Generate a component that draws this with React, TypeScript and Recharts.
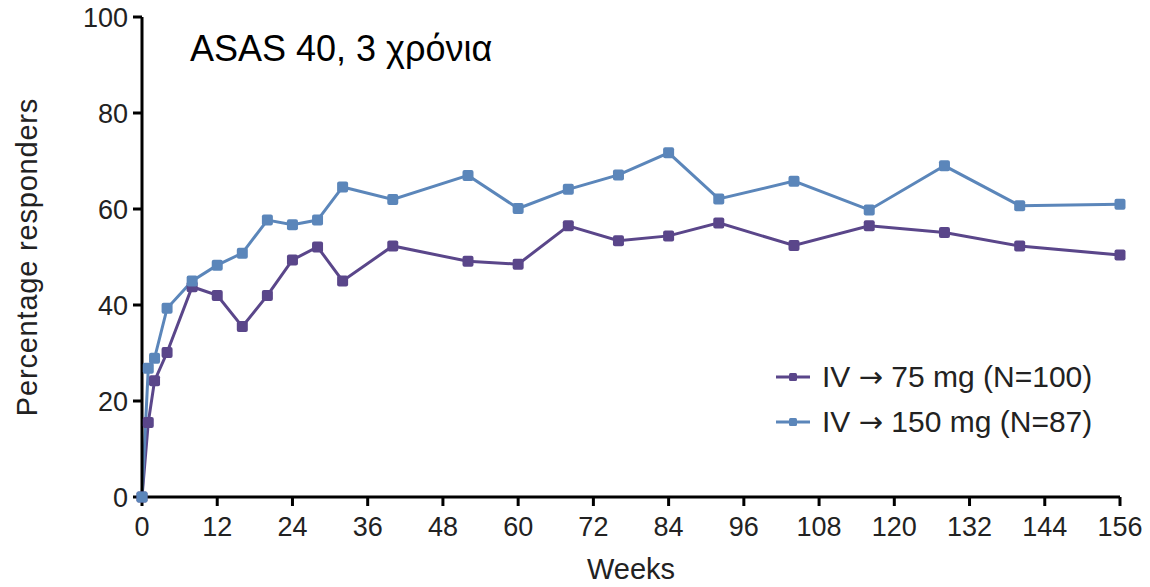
import { LineChart, Line, XAxis, YAxis } from "recharts";

const weeks = [0, 1, 2, 4, 8, 12, 16, 20, 24, 28, 32, 40, 52, 60, 68, 76, 84, 92, 104, 116, 128, 140, 156];
const iv75 = [0, 15.5, 24.2, 30.1, 43.8, 42, 35.5, 42, 49.4, 52.1, 45, 52.3, 49.1, 48.5, 56.5, 53.4, 54.4, 57.1, 52.4, 56.5, 55.1, 52.3, 50.4];
const iv150 = [0, 26.8, 28.9, 39.3, 45, 48.3, 50.8, 57.7, 56.7, 57.7, 64.6, 62, 67, 60.1, 64.1, 67.1, 71.7, 62.1, 65.8, 59.8, 69, 60.7, 61];
const xTicks = [0, 12, 24, 36, 48, 60, 72, 84, 96, 108, 120, 132, 144, 156];
const yTicks = [0, 20, 40, 60, 80, 100];

const seriesInfo = [
  { key: "iv75", dose: "75 mg (N=100)", color: "#5a468a" },
  { key: "iv150", dose: "150 mg (N=87)", color: "#5b86ba" },
];

const data = weeks.map((w, i) => ({ week: w, iv75: iv75[i], iv150: iv150[i] }));

const FONT = "'Liberation Sans', Arial, Helvetica, sans-serif";
const TEXT = "#222";

// square marker with slightly rounded corners
const SquareDot = (color: string) => (props: any) => {
  const { cx, cy, index } = props;
  if (cx == null || cy == null) return null;
  return <rect key={index} x={cx - 5.5} y={cy - 5.5} width={11} height={11} rx={2} fill={color} />;
};

const LegendBox = () => (
  <div
    style={{
      position: "absolute",
      left: 776,
      top: 354,
      fontFamily: FONT,
      fontSize: 30,
      color: TEXT,
    }}
  >
    {seriesInfo.map((s) => (
      <div key={s.key} style={{ display: "flex", alignItems: "center", height: 45 }}>
        <svg width={34} height={14}>
          <line x1={0} y1={7} x2={34} y2={7} stroke={s.color} strokeWidth={3} />
          <rect x={13} y={3} width={8} height={8} rx={1.5} fill={s.color} />
        </svg>
        <span style={{ marginLeft: 12, whiteSpace: "nowrap" }}>
          IV <span style={{ fontFamily: "'DejaVu Sans'", fontSize: 29 }}>{"\u2192"}</span> {s.dose}
        </span>
      </div>
    ))}
  </div>
);

export default function App() {
  return (
    <div style={{ position: "absolute", left: 0, top: 0, width: 1150, height: 587, background: "#fff" }}>
      <LineChart
        width={1150}
        height={587}
        data={data}
        margin={{ top: 17, right: 30, bottom: 0, left: 0 }}
      >
        <XAxis
          dataKey="week"
          type="number"
          domain={[0, 156]}
          ticks={xTicks}
          interval={0}
          height={90}
          axisLine={{ stroke: "#000", strokeWidth: 3 }}
          tickLine={{ stroke: "#000", strokeWidth: 3 }}
          tickSize={9}
          tickMargin={11}
          tick={{ fill: TEXT, fontSize: 27, fontFamily: FONT }}
          label={{
            value: "Weeks",
            position: "insideBottom",
            offset: 8,
            style: { fill: TEXT, fontSize: 29, fontFamily: FONT },
          }}
        />
        <YAxis
          type="number"
          domain={[0, 100]}
          ticks={yTicks}
          interval={0}
          width={142}
          axisLine={{ stroke: "#000", strokeWidth: 3 }}
          tickLine={{ stroke: "#000", strokeWidth: 3 }}
          tickSize={9}
          tickMargin={5}
          tick={{ fill: TEXT, fontSize: 27, fontFamily: FONT }}
          label={{
            content: (p: any) => {
              const vb = p.viewBox;
              const x = vb.x + 27;
              const y = vb.y + vb.height / 2;
              return (
                <text
                  x={x}
                  y={y}
                  transform={`rotate(-90 ${x} ${y})`}
                  textAnchor="middle"
                  dominantBaseline="central"
                  fill={TEXT}
                  fontSize={29}
                  letterSpacing={0.8}
                  fontFamily={FONT}
                >
                  Percentage responders
                </text>
              );
            },
          }}
        />
        {seriesInfo.map((s) => (
          <Line
            key={s.key}
            type="linear"
            dataKey={s.key}
            stroke={s.color}
            strokeWidth={3}
            dot={SquareDot(s.color)}
            activeDot={false}
            isAnimationActive={false}
          />
        ))}
        <text x={190} y={61} fontSize={36} fontFamily={FONT} fill="#000">
          ASAS 40, 3 χρόνια
        </text>
      </LineChart>
      <LegendBox />
    </div>
  );
}
